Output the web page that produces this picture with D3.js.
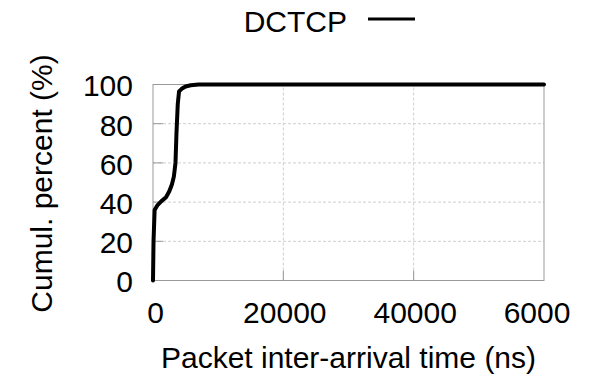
<!DOCTYPE html>
<html><head><meta charset="utf-8">
<script src="https://cdn.jsdelivr.net/npm/d3@7"></script>
<style>
html,body{margin:0;padding:0;background:#fff;}
text{font-family:"Liberation Sans",Arial,Helvetica,sans-serif;fill:#000;}
</style></head>
<body><svg id="c" width="603" height="379"></svg>
<script>
// Data (CDF of packet inter-arrival time, ns)
const seriesName = "DCTCP";
const xValues = [0, 80, 250, 700, 1300, 2000, 2500, 2900, 3200, 3450, 3600, 3800, 4000, 4400, 5000, 5800, 7000, 10000, 60000];
const yValues = [0, 20, 36, 38.5, 40.5, 42.5, 45.5, 49, 53, 60, 75, 90, 96.5, 97.8, 99, 99.6, 100, 100, 100];
const xTicks = [0, 20000, 40000, 60000];
const xTickLabels = ["0", "20000", "40000", "6000"];
const yTicks = [0, 20, 40, 60, 80, 100];
const xLabel = "Packet inter-arrival time (ns)";
const yLabel = "Cumul. percent (%)";

const svg = d3.select("#c");
const L = 153, R = 544, T = 84.5, B = 280.5;
const x = d3.scaleLinear().domain([0, 60000]).range([L, R]);
const y = d3.scaleLinear().domain([0, 100]).range([B, T]);
const fs = 30;

// grid
const g = svg.append("g");
g.selectAll(".hg").data(yTicks.filter(d => d > 0 && d < 100)).join("line")
  .attr("x1", L).attr("x2", R).attr("y1", d => y(d)).attr("y2", d => y(d))
  .attr("stroke", "#cfcfcf").attr("stroke-width", 1).attr("stroke-dasharray", "3,2");
g.selectAll(".vg").data(xTicks.filter(d => d > 0 && d < 60000)).join("line")
  .attr("y1", B).attr("y2", T).attr("x1", d => x(d)).attr("x2", d => x(d))
  .attr("stroke", "#cfcfcf").attr("stroke-width", 1).attr("stroke-dasharray", "3,2");
// inner tick marks
g.selectAll(".yt").data(yTicks.filter(d => d > 0 && d < 100)).join("line")
  .attr("x1", L).attr("x2", L + 10).attr("y1", d => y(d)).attr("y2", d => y(d))
  .attr("stroke", "#999").attr("stroke-width", 1);
g.selectAll(".xt").data(xTicks.filter(d => d > 0 && d < 60000)).join("line")
  .attr("y1", B).attr("y2", B - 10).attr("x1", d => x(d)).attr("x2", d => x(d))
  .attr("stroke", "#999").attr("stroke-width", 1);
// frame
svg.append("rect").attr("x", L).attr("y", T).attr("width", R - L).attr("height", B - T)
  .attr("fill", "none").attr("stroke", "#999").attr("stroke-width", 1);

// axes (labels only)
const xa = svg.append("g").attr("transform", `translate(0,${B})`)
  .call(d3.axisBottom(x).tickValues(xTicks).tickSize(0).tickPadding(21)
    .tickFormat((d, i) => xTickLabels[i]));
xa.select(".domain").remove();
xa.selectAll("text").style("font-size", fs + "px")
  .attr("dx", (d, i) => i === xTicks.length - 1 ? -7.5 : (i === 0 ? 2 : 1));

const ya = svg.append("g").attr("transform", `translate(${L},0)`)
  .call(d3.axisLeft(y).tickValues(yTicks).tickSize(0).tickPadding(20));
ya.select(".domain").remove();
ya.selectAll("text").style("font-size", fs + "px").attr("dy", "0.38em");

// curve
const pts = xValues.map((v, i) => [v, yValues[i]]);
svg.append("path").datum(pts)
  .attr("d", d3.line().x(d => x(d[0])).y(d => y(d[1])))
  .attr("fill", "none").attr("stroke", "#000").attr("stroke-width", 4)
  .attr("stroke-linejoin", "round").attr("stroke-linecap", "round");

// axis titles
svg.append("text").attr("x", (L + R) / 2).attr("y", 368).attr("text-anchor", "middle")
  .style("font-size", "30px").text(xLabel);
svg.append("text").attr("transform", `translate(52,${(T + B) / 2 + 1}) rotate(-90)`)
  .attr("text-anchor", "middle").style("font-size", "30px").text(yLabel);

// legend
svg.append("text").attr("x", 347).attr("y", 32).attr("text-anchor", "end")
  .style("font-size", fs + "px").text(seriesName);
svg.append("line").attr("x1", 368).attr("x2", 415).attr("y1", 19).attr("y2", 19)
  .attr("stroke", "#000").attr("stroke-width", 3);
</script></body></html>
